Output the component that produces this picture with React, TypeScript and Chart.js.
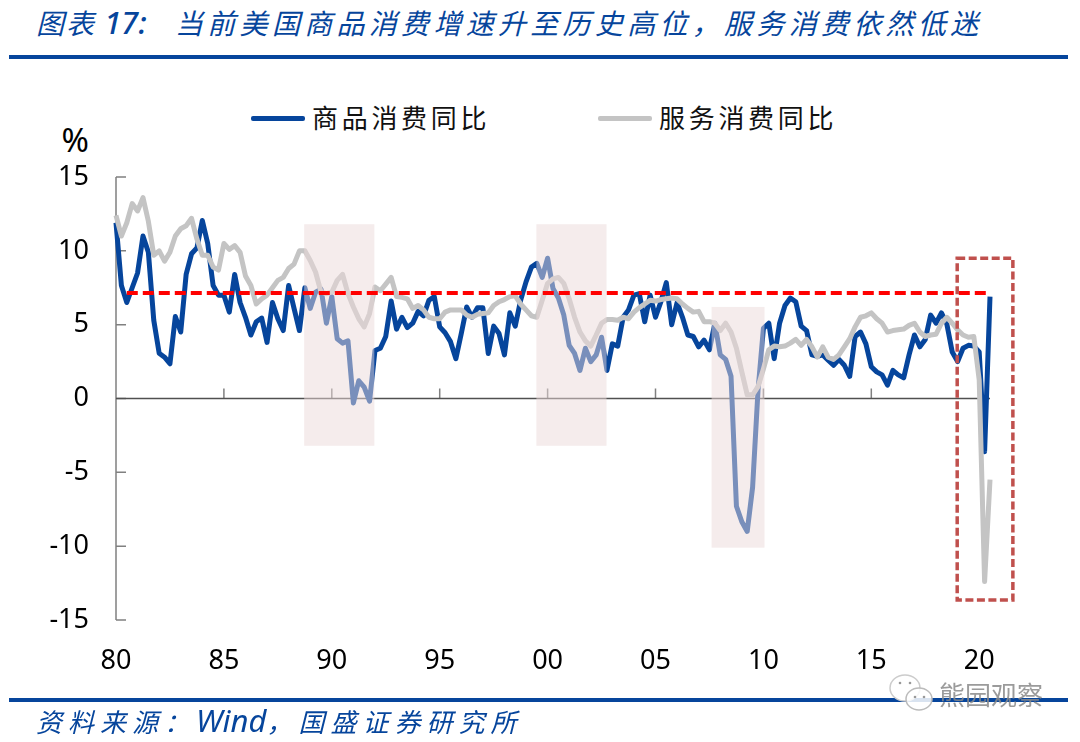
import { useEffect, useRef } from "react";
import { Chart, registerables } from "chart.js";
import type { Plugin } from "chart.js";

Chart.register(...registerables);

const startYear = 1980;

// quarterly yoy, 1980Q1 - 2020Q3
const goods = [
  11.9, 7.65, 6.5, 7.5, 8.5, 11, 9.9, 5.3, 3.07, 2.8,
  2.35, 5.55, 4.5, 8.4, 9.8, 10.2, 12.05, 10.5, 7.65, 7,
  7, 5.85, 8.4, 6.5, 5.5, 4.3, 5.2, 5.45, 3.8, 6.5,
  5.4, 4.6, 7.65, 6.1, 4.6, 7.5, 6.1, 7.2, 7.4, 5.1,
  6.9, 4.05, 3.75, 3.9, -0.3, 1.2, 0.77, -0.18, 3.25, 3.4,
  4.2, 6.6, 4.7, 5.5, 4.8, 5.1, 5.9, 5.6, 6.65, 6.9,
  4.85, 4.45, 3.85, 2.7, 4.4, 6.2, 5.5, 6.15, 6.15, 3.05,
  4.9, 4.4, 2.95, 5.8, 4.9, 6.65, 7.9, 8.9, 9.15, 8.2,
  9.5, 7.45, 6.8, 5.65, 3.6, 3.05, 1.9, 3.4, 2.5, 2.95,
  4.15, 1.9, 3.7, 3.55, 5.5, 6, 7, 7.1, 5.2, 7,
  5.5, 6.55, 7.85, 5, 6.5, 5.5, 4.3, 4.2, 3.5, 3.95,
  3.3, 5.1, 2.95, 2.65, 1.5, -7.3, -8.35, -9, -6, 0.55,
  4.75, 5.1, 2.7, 5.1, 6.3, 6.8, 6.55, 4.9, 4.6, 2.95,
  2.85, 2.95, 2.6, 2.25, 2.65, 2.25, 1.5, 4.2, 4.5, 3.7,
  2.15, 1.8, 1.6, 0.9, 1.9, 1.6, 1.4, 2.95, 4.3, 3.5,
  4, 5.65, 5.1, 5.8, 5.05, 3.15, 2.5, 3.4, 3.6, 3.55,
  3.15, -3.6, 6.9,
];

const services = [
  12.4, 11, 11.9, 13.2, 12.7, 13.6, 12, 9.7, 10, 9.3,
  9.9, 11, 11.5, 11.7, 12.2, 10.8, 9.7, 9.7, 8.9, 8.7,
  10.5, 10.1, 10.35, 9.9, 8.3, 7.65, 6.4, 6.75, 7, 7.5,
  8, 8.2, 8.8, 9.1, 10, 10, 9.35, 8.55, 7.2, 7.1,
  7.2, 8, 8.4, 7.1, 6.2, 5.4, 4.85, 5.75, 7.55, 7.3,
  7.75, 8.2, 6.9, 6.85, 6.75, 6.1, 6.3, 6, 5.5, 5.4,
  5.4, 5.85, 6, 6, 6, 5.65, 5.5, 5.7, 5.75, 5.8,
  6.3, 6.55, 6.7, 6.9, 6.95, 6.4, 6, 5.6, 5.5, 6.65,
  7.8, 8.1, 8.2, 7.8, 6.75, 5.5, 4.5, 3.9, 3.55, 4.3,
  5.1, 5.35, 5.35, 5.3, 5.5, 5.4, 5.85, 6.15, 6.4, 6.65,
  6.6, 6.7, 6.75, 6.8, 6.75, 6.4, 6.1, 5.85, 5.9, 5.2,
  5.2, 5.1, 4.6, 5.1, 4.5, 3.4, 1.8, 0.25, 0.25, 0.8,
  2, 3.3, 3.55, 3.5, 3.55, 3.75, 4, 3.6, 4, 3.5,
  2.8, 3.5, 2.8, 2.65, 2.95, 3.5, 4.05, 4.85, 5.5, 5.6,
  5.8, 5.4, 5.1, 4.5, 4.6, 4.65, 4.7, 4.95, 5.1, 4.5,
  4.2, 4.3, 4.35, 5.1, 5.5, 5.1, 4.65, 4.3, 4.15, 4.2,
  1.25, -12.4, -5.5,
];

const goodsLabel = "商品消费同比";
const servicesLabel = "服务消费同比";

// dashed reference level
const refLevelYears = [1980.5, 2020.5];
const refLevelValues = [7.15, 7.15];

// shaded periods, in axis units
const shadeFrom = [1988.72, 1999.48, 2007.6];
const shadeTo = [1991.97, 2002.73, 2010.05];
const shadeTop = [11.8, 11.8, 6.2];
const shadeBottom = [-3.2, -3.2, -10.1];

// dashed box around 2020, in axis units
const boxYears = [2018.98, 2021.56];
const boxValues = [9.5, -13.65];

const toPoints = (values: number[]) =>
  values.map((y, i) => ({ x: startYear + i / 4, y }));

const decorations: Plugin<"line"> = {
  id: "decorations",
  // axis lines and inward ticks go under the series
  beforeDatasetsDraw(chart) {
    const { ctx, scales, chartArea } = chart;
    const x = scales.x;
    const y = scales.y;
    const zero = y.getPixelForValue(0);
    ctx.save();
    ctx.strokeStyle = "#808080";
    ctx.lineWidth = 1.5;
    ctx.beginPath();
    ctx.moveTo(chartArea.left, chartArea.top);
    ctx.lineTo(chartArea.left, chartArea.bottom);
    y.ticks.forEach((t) => {
      const py = y.getPixelForValue(t.value);
      ctx.moveTo(chartArea.left, py);
      ctx.lineTo(chartArea.left + 10, py);
    });
    x.ticks.forEach((t) => {
      const px = x.getPixelForValue(t.value);
      ctx.moveTo(px, zero);
      ctx.lineTo(px, zero - 10);
    });
    ctx.stroke();
    ctx.strokeStyle = "#505050";
    ctx.beginPath();
    ctx.moveTo(chartArea.left, zero);
    ctx.lineTo(chartArea.right, zero);
    ctx.stroke();
    ctx.restore();
  },
  // the red line is dataset 0, drawn last: shading sits over the two series but under it
  beforeDatasetDraw(chart, args) {
    if (args.index !== 0) return;
    const { ctx, scales } = chart;
    ctx.save();
    ctx.fillStyle = "rgba(235, 217, 217, 0.5)";
    shadeFrom.forEach((from, i) => {
      const left = scales.x.getPixelForValue(from);
      const right = scales.x.getPixelForValue(shadeTo[i]);
      const top = scales.y.getPixelForValue(shadeTop[i]);
      const bottom = scales.y.getPixelForValue(shadeBottom[i]);
      ctx.fillRect(left, top, right - left, bottom - top);
    });
    ctx.restore();
  },
  afterDatasetsDraw(chart) {
    const { ctx, scales } = chart;
    const left = scales.x.getPixelForValue(boxYears[0]);
    const right = scales.x.getPixelForValue(boxYears[1]);
    const top = scales.y.getPixelForValue(boxValues[0]);
    const bottom = scales.y.getPixelForValue(boxValues[1]);
    ctx.save();
    ctx.strokeStyle = "#c0504d";
    ctx.lineWidth = 3.5;
    ctx.setLineDash([8, 3.5]);
    ctx.strokeRect(left, top, right - left, bottom - top);
    ctx.restore();
  },
};

const cjk = '"Noto Sans CJK SC", sans-serif';
const numFont = '"Noto Sans", sans-serif';

function LegendItem({ left, color, text }: { left: number; color: string; text: string }) {
  return (
    <>
      <div
        style={{
          position: "absolute",
          left,
          top: 116,
          width: 54,
          height: 5,
          borderRadius: 2,
          background: color,
        }}
      />
      <div
        style={{
          position: "absolute",
          left: left + 61,
          top: 99,
          fontFamily: cjk,
          fontSize: 26,
          lineHeight: "36px",
          letterSpacing: 3.7,
          color: "#111",
          whiteSpace: "nowrap",
        }}
      >
        {text}
      </div>
    </>
  );
}

export default function App() {
  const canvasRef = useRef<HTMLCanvasElement>(null);

  useEffect(() => {
    if (!canvasRef.current) return;

    const chart = new Chart(canvasRef.current, {
      type: "line",
      data: {
        datasets: [
          {
            label: "ref",
            data: refLevelYears.map((x, i) => ({ x, y: refLevelValues[i] })),
            borderColor: "#ff0000",
            borderWidth: 4,
            borderDash: [11, 5],
            pointRadius: 0,
          },
          {
            label: servicesLabel,
            data: toPoints(services),
            borderColor: "#c4c4c4",
            borderWidth: 5,
            borderJoinStyle: "round",
            pointRadius: 0,
            clip: false,
          },
          {
            label: goodsLabel,
            data: toPoints(goods),
            borderColor: "#06459c",
            borderWidth: 5,
            borderJoinStyle: "round",
            pointRadius: 0,
            clip: false,
          },
        ],
      },
      options: {
        responsive: false,
        animation: false,
        layout: { padding: { top: 177, right: 90 } },
        plugins: { legend: { display: false }, tooltip: { enabled: false } },
        scales: {
          x: {
            type: "linear",
            min: startYear,
            max: 2020.5,
            grid: { display: false },
            border: { display: false },
            afterFit: (s) => {
              s.height = 122;
            },
            ticks: {
              stepSize: 5,
              includeBounds: false,
              maxRotation: 0,
              autoSkip: false,
              padding: 17,
              color: "#000",
              font: { family: numFont, size: 27 },
              callback: (v) => String(Number(v) % 100).padStart(2, "0"),
            },
          },
          y: {
            min: -15,
            max: 15,
            grid: { display: false },
            border: { display: false },
            afterFit: (s) => {
              s.width = 116;
            },
            ticks: {
              stepSize: 5,
              padding: 19,
              color: "#000",
              font: { family: numFont, size: 27 },
            },
          },
        },
      },
      plugins: [decorations],
    });

    return () => chart.destroy();
  }, []);

  return (
    <div style={{ position: "absolute", left: 0, top: 0, width: 1080, height: 742, background: "#fff", overflow: "hidden" }}>
      <div
        style={{
          position: "absolute",
          left: 36,
          top: 2,
          fontFamily: cjk,
          fontStyle: "italic",
          fontSize: 28,
          lineHeight: "40px",
          color: "#06459c",
          whiteSpace: "pre",
        }}
      >
        <span style={{ letterSpacing: 2 }}>图表 </span>
        <span style={{ fontFamily: numFont, fontSize: 31, fontWeight: 500 }}>17:</span>
      </div>
      <div
        style={{
          position: "absolute",
          left: 175,
          top: 2,
          fontFamily: cjk,
          fontStyle: "italic",
          fontSize: 28,
          lineHeight: "40px",
          letterSpacing: 4.3,
          color: "#06459c",
          whiteSpace: "pre",
        }}
      >
        当前美国商品消费增速升至历史高位，服务消费依然低迷
      </div>
      <div style={{ position: "absolute", left: 9, top: 55, width: 1059, height: 4, background: "#06459c" }} />

      <LegendItem left={251} color="#06459c" text={goodsLabel} />
      <LegendItem left={598} color="#c4c4c4" text={servicesLabel} />

      <div
        style={{
          position: "absolute",
          right: 1080 - 89,
          top: 122,
          fontFamily: numFont,
          fontSize: 33,
          lineHeight: "36px",
          color: "#000",
        }}
      >
        %
      </div>

      <canvas ref={canvasRef} width={1080} height={742} style={{ position: "absolute", left: 0, top: 0 }} />

      <div style={{ position: "absolute", left: 9, top: 698, width: 1059, height: 4, background: "#06459c" }} />
      <div
        style={{
          position: "absolute",
          left: 36,
          top: 701,
          fontFamily: cjk,
          fontStyle: "italic",
          fontSize: 26,
          lineHeight: "38px",
          letterSpacing: 6,
          color: "#06459c",
          whiteSpace: "pre",
        }}
      >
        资料来源：<span style={{ fontFamily: numFont, fontSize: 31, letterSpacing: 0 }}>Wind</span>，国盛证券研究所
      </div>

      <svg width={50} height={44} style={{ position: "absolute", left: 888, top: 672 }}>
        <ellipse cx={17} cy={16} rx={15} ry={13} fill="#fff" stroke="#ccc" strokeWidth={1.5} />
        <ellipse cx={31} cy={27} rx={13} ry={11} fill="#fff" fillOpacity={0.85} stroke="#bbb" strokeWidth={1.5} />
        <circle cx={12} cy={11} r={1.3} fill="#999" />
        <circle cx={22} cy={11} r={1.3} fill="#999" />
        <circle cx={27} cy={25} r={1.3} fill="#999" />
        <circle cx={36} cy={25} r={1.3} fill="#999" />
      </svg>
      <div
        style={{
          position: "absolute",
          left: 939,
          top: 676,
          fontFamily: cjk,
          fontSize: 26,
          lineHeight: "36px",
          color: "#8a8a8a",
          opacity: 0.85,
          whiteSpace: "nowrap",
        }}
      >
        熊园观察
      </div>
    </div>
  );
}
